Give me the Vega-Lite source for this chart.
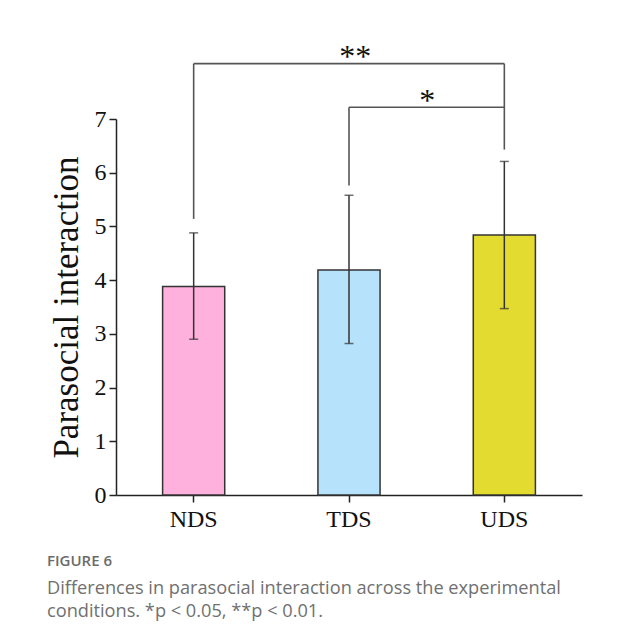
{
  "$schema": "https://vega.github.io/schema/vega-lite/v6.json",
  "width": 466,
  "height": 376,
  "autosize": {"type": "none"},
  "padding": {"left": 116, "top": 119, "right": 40, "bottom": 147},
  "background": "white",
  "config": {
    "view": {"stroke": null},
    "axis": {
      "domainColor": "#222222",
      "domainWidth": 1.5,
      "tickColor": "#222222",
      "tickWidth": 1.5,
      "labelFont": "Liberation Serif",
      "labelFontSize": 24,
      "labelColor": "#111111",
      "titleFont": "Liberation Serif",
      "titleFontWeight": "normal",
      "titleColor": "#111111",
      "grid": false
    }
  },
  "title": {
    "text": "FIGURE 6",
    "subtitle": ["Differences in parasocial interaction across the experimental", "conditions. *p < 0.05, **p < 0.01."],
    "orient": "bottom",
    "anchor": "start",
    "frame": "group",
    "dx": -69,
    "offset": 23,
    "font": "Open Sans",
    "fontSize": 15,
    "fontWeight": 600,
    "color": "#6b6b6b",
    "subtitleFont": "Open Sans",
    "subtitleFontSize": 18.2,
    "subtitleColor": "#707070",
    "subtitleLineHeight": 22.5,
    "subtitlePadding": 11
  },
  "datasets": {
    "bars": [
      {"condition": "NDS", "mean": 3.88, "lower": 2.90, "upper": 4.88},
      {"condition": "TDS", "mean": 4.19, "lower": 2.82, "upper": 5.58},
      {"condition": "UDS", "mean": 4.84, "lower": 3.47, "upper": 6.21}
    ],
    "legs": [
      {"condition": "NDS", "from": 5.14, "to": 8.03},
      {"condition": "UDS", "from": 6.43, "to": 8.03},
      {"condition": "TDS", "from": 5.76, "to": 7.22}
    ],
    "spans": [
      {"start": "NDS", "end": "UDS", "level": 8.03, "label": "**", "textLevel": 7.97},
      {"start": "TDS", "end": "UDS", "level": 7.22, "label": "*", "textLevel": 7.14}
    ]
  },
  "layer": [
    {
      "data": {"name": "bars"},
      "mark": {"type": "bar", "stroke": "#333333", "strokeWidth": 1.5},
      "encoding": {
        "x": {
          "field": "condition",
          "type": "nominal",
          "scale": {"domain": ["NDS", "TDS", "UDS"], "paddingInner": 0.6, "paddingOuter": 0.3},
          "axis": {"title": null, "labelAngle": 0, "tickSize": 7, "labelPadding": 5}
        },
        "y": {
          "field": "mean",
          "type": "quantitative",
          "scale": {"domain": [0, 7], "nice": false},
          "axis": {
            "title": "Parasocial interaction",
            "titleFontSize": 35,
            "titlePadding": 10,
            "values": [0, 0.5, 1, 1.5, 2, 2.5, 3, 3.5, 4, 4.5, 5, 5.5, 6, 6.5, 7],
            "labelExpr": "datum.value % 1 === 0 ? format(datum.value, 'd') : ''",
            "tickSize": {"condition": {"test": "datum.value % 1 === 0", "value": 7}, "value": 4},
            "labelPadding": 3
          }
        },
        "color": {
          "field": "condition",
          "type": "nominal",
          "scale": {"domain": ["NDS", "TDS", "UDS"], "range": ["#FDB1DC", "#B6E3FB", "#E3DB2F"]},
          "legend": null
        }
      }
    },
    {
      "data": {"name": "bars"},
      "mark": {"type": "rule", "stroke": "#333333", "strokeWidth": 1.5},
      "encoding": {
        "x": {"field": "condition", "type": "nominal"},
        "y": {"field": "lower", "type": "quantitative", "title": "Parasocial interaction"},
        "y2": {"field": "upper"}
      }
    },
    {
      "data": {"name": "bars"},
      "mark": {"type": "tick", "color": "#333333", "thickness": 1.5, "size": 9, "orient": "horizontal"},
      "encoding": {
        "x": {"field": "condition", "type": "nominal"},
        "y": {"field": "lower", "type": "quantitative", "title": "Parasocial interaction"}
      }
    },
    {
      "data": {"name": "bars"},
      "mark": {"type": "tick", "color": "#333333", "thickness": 1.5, "size": 9, "orient": "horizontal"},
      "encoding": {
        "x": {"field": "condition", "type": "nominal"},
        "y": {"field": "upper", "type": "quantitative", "title": "Parasocial interaction"}
      }
    },
    {
      "data": {"name": "legs"},
      "mark": {"type": "rule", "stroke": "#555555", "strokeWidth": 1.6},
      "encoding": {
        "x": {"field": "condition", "type": "nominal"},
        "y": {"field": "from", "type": "quantitative", "title": "Parasocial interaction"},
        "y2": {"field": "to"}
      }
    },
    {
      "data": {"name": "spans"},
      "mark": {"type": "rule", "stroke": "#555555", "strokeWidth": 1.6},
      "encoding": {
        "x": {"field": "start", "type": "nominal", "bandPosition": 0.5},
        "x2": {"field": "end", "bandPosition": 0.5},
        "y": {"field": "level", "type": "quantitative", "title": "Parasocial interaction"}
      }
    },
    {
      "data": {"name": "spans"},
      "transform": [{"filter": "datum.label === '**'"}],
      "mark": {"type": "text", "font": "Liberation Serif", "fontSize": 32, "baseline": "alphabetic", "align": "center", "color": "#111111"},
      "encoding": {
        "x": {"field": "start", "type": "nominal", "bandPosition": 3.1},
        "y": {"field": "textLevel", "type": "quantitative", "title": "Parasocial interaction"},
        "text": {"field": "label"}
      }
    },
    {
      "data": {"name": "spans"},
      "transform": [{"filter": "datum.label === '*'"}],
      "mark": {"type": "text", "font": "Liberation Serif", "fontSize": 32, "baseline": "alphabetic", "align": "center", "color": "#111111"},
      "encoding": {
        "x": {"field": "start", "type": "nominal", "bandPosition": 1.76},
        "y": {"field": "textLevel", "type": "quantitative", "title": "Parasocial interaction"},
        "text": {"field": "label"}
      }
    }
  ]
}
